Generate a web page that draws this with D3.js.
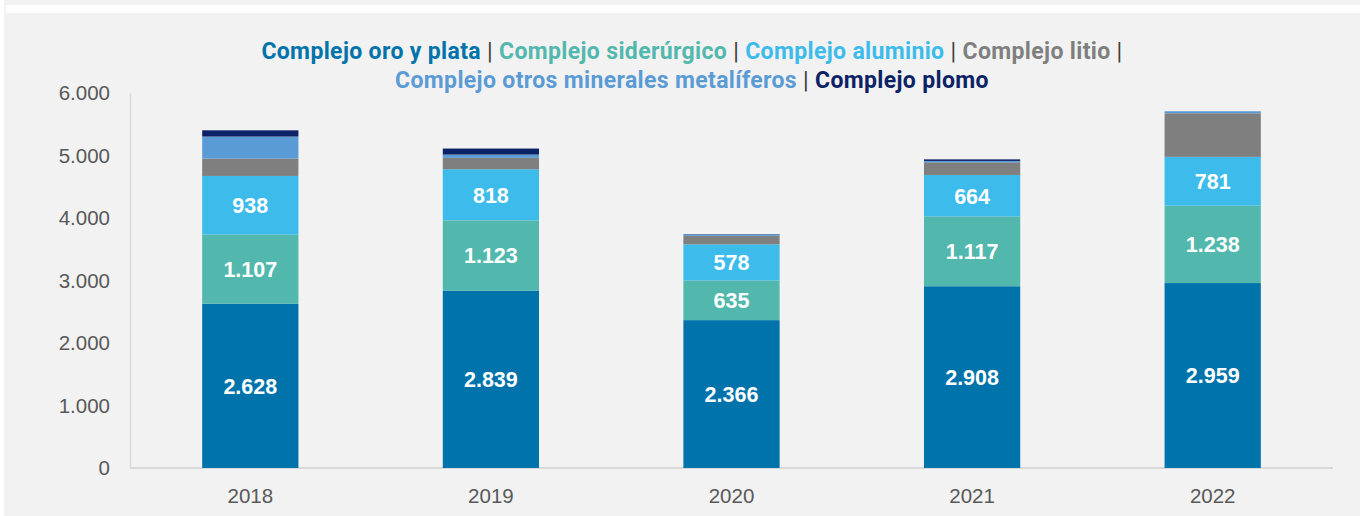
<!DOCTYPE html>
<html lang="es">
<head>
<meta charset="UTF-8">
<title>Complejos exportadores</title>
<script src="https://cdn.jsdelivr.net/npm/d3@7"></script>
<style>
  html, body { margin: 0; padding: 0; background: #f2f2f2; }
  svg { display: block; }
</style>
</head>
<body>
<div id="chart"></div>
<script>
// data
const years = ["2018", "2019", "2020", "2021", "2022"];
const seriesNames = ["Complejo oro y plata", "Complejo siderúrgico", "Complejo aluminio",
                     "Complejo litio", "Complejo otros minerales metalíferos", "Complejo plomo"];
const oroPlata   = [2628, 2839, 2366, 2908, 2959];
const siderurg   = [1107, 1123, 635, 1117, 1238];
const aluminio   = [938, 818, 578, 664, 781];
const litio      = [278, 182, 135, 202, 698];
const otros      = [352, 53, 22, 22, 32];
const plomo      = [100, 96, 6, 25, 0];
const yTicks     = [0, 1000, 2000, 3000, 4000, 5000, 6000];

const colors = ["#0073ab", "#52b8ad", "#3dbbea", "#7f7f7f", "#5b9bd5", "#0c2266"];
const labelled = [true, true, true, false, false, false];

const W = 1360, H = 516;
const margin = {left: 130, right: 27, top: 93, bottom: 48};

const svg = d3.select("#chart").append("svg")
    .attr("width", W).attr("height", H);

// white strips along the frame edge
svg.append("rect").attr("x", 0).attr("y", 0).attr("width", 4).attr("height", H).attr("fill", "#ffffff");
svg.append("rect").attr("x", 6).attr("y", 5).attr("width", W - 6).attr("height", 8).attr("fill", "#ffffff");

const x = d3.scaleBand().domain(years)
    .range([margin.left, W - margin.right]).paddingInner(0.6).paddingOuter(0.3);
const y = d3.scaleLinear().domain([0, 6000]).range([H - margin.bottom, margin.top]);

const table = years.map((yr, i) => ({
  year: yr,
  s0: oroPlata[i], s1: siderurg[i], s2: aluminio[i], s3: litio[i], s4: otros[i], s5: plomo[i]
}));
const stack = d3.stack().keys(["s0", "s1", "s2", "s3", "s4", "s5"])(table);

const fmt = d => d3.format(",")(d).replace(/,/g, ".");

// axes
const yAxis = svg.append("g")
    .attr("transform", `translate(${margin.left},0)`)
    .call(d3.axisLeft(y).tickValues(yTicks).tickSize(0).tickPadding(20).tickFormat(fmt));
yAxis.select(".domain").attr("stroke", "#d9d9d9").attr("stroke-width", 1.5);
yAxis.selectAll("text").attr("font-family", "Liberation Sans, Arial, sans-serif")
    .attr("font-size", 20.5).attr("fill", "#595959");

const xAxis = svg.append("g")
    .attr("transform", `translate(0,${y(0)})`)
    .call(d3.axisBottom(x).tickSize(0).tickPadding(20));
xAxis.select(".domain").attr("stroke", "#d9d9d9").attr("stroke-width", 2)
    .attr("d", `M${margin.left},0H${W - margin.right}`);
xAxis.selectAll("text").attr("font-family", "Liberation Sans, Arial, sans-serif")
    .attr("font-size", 20.5).attr("fill", "#595959");

// bars
const layers = svg.append("g").selectAll("g")
    .data(stack).join("g")
    .attr("fill", (d, i) => colors[i]);

layers.selectAll("rect")
    .data(d => d)
    .join("rect")
    .attr("x", d => x(d.data.year))
    .attr("width", x.bandwidth())
    .attr("y", d => y(d[1]))
    .attr("height", d => y(d[0]) - y(d[1]));

// value labels
stack.forEach((layer, i) => {
  if (!labelled[i]) return;
  svg.append("g").selectAll("text")
      .data(layer).join("text")
      .attr("x", d => x(d.data.year) + x.bandwidth() / 2)
      .attr("y", d => (y(d[0]) + y(d[1])) / 2)
      .attr("dy", "0.37em")
      .attr("text-anchor", "middle")
      .attr("font-family", "Liberation Sans, Arial, sans-serif")
      .attr("font-weight", "bold")
      .attr("font-size", 21.5)
      .attr("fill", "#ffffff")
      .text(d => fmt(d[1] - d[0]));
});

// legend as two centred lines of text
const legendLines = [[0, 1, 2, 3], [4, 5]];
const legendY = [59, 88];
legendLines.forEach((idx, li) => {
  const t = svg.append("text")
      .attr("x", 692).attr("y", legendY[li])
      .attr("text-anchor", "middle")
      .attr("font-family", "Roboto, sans-serif")
      .attr("font-size", 23)
      .attr("letter-spacing", 0.35);
  idx.forEach((k, j) => {
    if (j > 0) t.append("tspan").attr("fill", "#404040").text(" | ");
    t.append("tspan").attr("font-weight", "bold").attr("fill", colors[k]).text(seriesNames[k]);
  });
  if (li === 0) t.append("tspan").attr("fill", "#404040").text(" |");
});
</script>
</body>
</html>
